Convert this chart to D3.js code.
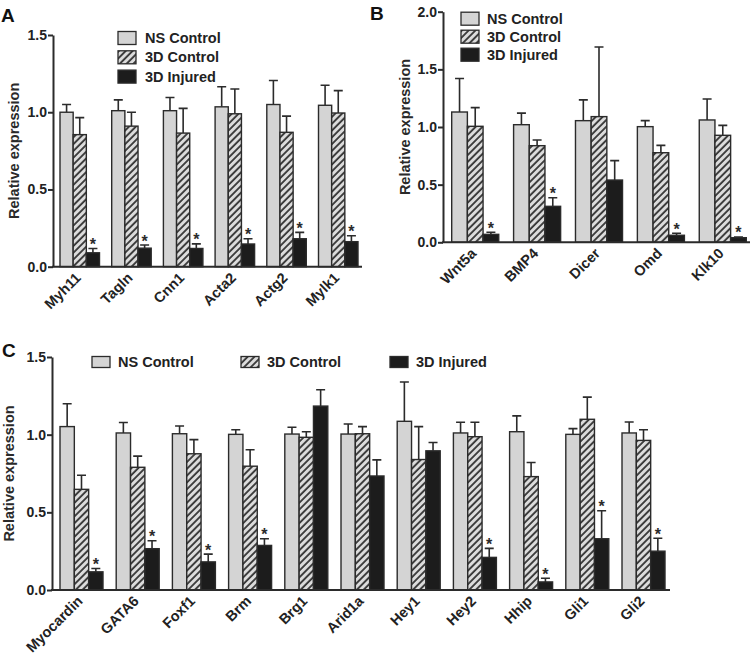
<!DOCTYPE html>
<html>
<head>
<meta charset="utf-8">
<script src="https://cdn.jsdelivr.net/npm/d3@7"></script>
<style>
  body { margin: 0; background: #fff; }
  svg { font-family: "Liberation Sans", Arial, sans-serif; }
</style>
</head>
<body>
<div id="chart"></div>
<script>
// series names
const seriesNames = ["NS Control", "3D Control", "3D Injured"];

// panel A - smooth muscle genes
const catsA = ["Myh11", "Tagln", "Cnn1", "Acta2", "Actg2", "Mylk1"];
const nsA = [1.00, 1.01, 1.01, 1.035, 1.05, 1.045];
const nsErrA = [0.05, 0.07, 0.085, 0.13, 0.155, 0.13];
const ctlA = [0.855, 0.91, 0.865, 0.99, 0.87, 0.995];
const ctlErrA = [0.11, 0.09, 0.16, 0.16, 0.105, 0.145];
const injA = [0.09, 0.12, 0.118, 0.147, 0.181, 0.162];
const injErrA = [0.028, 0.02, 0.03, 0.034, 0.041, 0.038];
const sigA = ["Myh11", "Tagln", "Cnn1", "Acta2", "Actg2", "Mylk1"];

// panel B
const catsB = ["Wnt5a", "BMP4", "Dicer", "Omd", "Klk10"];
const nsB = [1.13, 1.02, 1.055, 1.003, 1.061];
const nsErrB = [0.29, 0.10, 0.18, 0.052, 0.182];
const ctlB = [1.006, 0.838, 1.09, 0.777, 0.928];
const ctlErrB = [0.162, 0.049, 0.604, 0.064, 0.086];
const injB = [0.069, 0.312, 0.54, 0.061, 0.04];
const injErrB = [0.018, 0.075, 0.168, 0.017, 0.006];
const sigB = ["Wnt5a", "BMP4", "Omd", "Klk10"];

// panel C
const catsC = ["Myocardin", "GATA6", "Foxf1", "Brm", "Brg1", "Arid1a", "Hey1", "Hey2", "Hhip", "Gli1", "Gli2"];
const nsC = [1.052, 1.011, 1.006, 1.002, 1.004, 1.004, 1.086, 1.011, 1.019, 1.002, 1.011];
const nsErrC = [0.147, 0.067, 0.05, 0.03, 0.044, 0.065, 0.253, 0.069, 0.102, 0.037, 0.071];
const ctlC = [0.648, 0.79, 0.877, 0.797, 0.983, 1.006, 0.84, 0.987, 0.73, 1.099, 0.963];
const ctlErrC = [0.091, 0.072, 0.091, 0.106, 0.036, 0.046, 0.212, 0.093, 0.091, 0.143, 0.069];
const injC = [0.117, 0.266, 0.181, 0.287, 1.184, 0.734, 0.896, 0.21, 0.052, 0.33, 0.25];
const injErrC = [0.021, 0.051, 0.05, 0.043, 0.105, 0.104, 0.054, 0.058, 0.024, 0.18, 0.083];
const sigC = ["Myocardin", "GATA6", "Foxf1", "Brm", "Hey2", "Hhip", "Gli1", "Gli2"];

const ticksA = [0, 0.5, 1.0, 1.5];
const ticksB = [0, 0.5, 1.0, 1.5, 2.0];
const ticksC = [0, 0.5, 1.0, 1.5];

const W = 753, H = 661;
const ink = "#2b2b2b";

const svg = d3.select("#chart").append("svg")
    .attr("width", W)
    .attr("height", H);

// hatch pattern for 3D control
const defs = svg.append("defs");
const pat = defs.append("pattern")
    .attr("id", "hatch")
    .attr("patternUnits", "userSpaceOnUse")
    .attr("width", 4.8)
    .attr("height", 4.8)
    .attr("patternTransform", "rotate(45)");
pat.append("rect").attr("width", 4.8).attr("height", 4.8).attr("fill", "#dcdcdc");
pat.append("line")
    .attr("x1", 1).attr("y1", 0).attr("x2", 1).attr("y2", 4.8)
    .attr("stroke", "#333").attr("stroke-width", 1.8);

const fills = ["#d4d4d4", "url(#hatch)", "#1c1c1c"];

function drawPanel(p) {
    const g = svg.append("g");

    const x0 = d3.scaleBand()
        .domain(p.cats)
        .range(p.barRange)
        .paddingInner(p.padInner)
        .paddingOuter(0);
    const x1 = d3.scaleBand()
        .domain(seriesNames)
        .range([0, x0.bandwidth()]);
    const y = d3.scaleLinear()
        .domain(p.yDomain)
        .range(p.yRange);

    const rows = p.cats.map((c, i) => ({
        cat: c,
        vals: [
            { s: seriesNames[0], v: p.ns[i], e: p.nsErr[i] },
            { s: seriesNames[1], v: p.ctl[i], e: p.ctlErr[i] },
            { s: seriesNames[2], v: p.inj[i], e: p.injErr[i] }
        ]
    }));

    const grp = g.selectAll(".grp").data(rows).enter().append("g")
        .attr("transform", d => "translate(" + x0(d.cat) + ",0)");

    // error bars (drawn first so bar outline covers base)
    grp.selectAll(".err").data(d => d.vals).enter().append("path")
        .attr("d", d => {
            const cx = x1(d.s) + x1.bandwidth() / 2;
            const yt = y(d.v + d.e);
            return "M" + cx + "," + y(d.v) + "V" + yt + "M" + (cx - 4.5) + "," + yt + "H" + (cx + 4.5);
        })
        .attr("stroke", ink)
        .attr("stroke-width", 1.6)
        .attr("fill", "none");

    grp.selectAll("rect").data(d => d.vals).enter().append("rect")
        .attr("x", d => x1(d.s))
        .attr("y", d => y(d.v))
        .attr("width", x1.bandwidth())
        .attr("height", d => y(0) - y(d.v))
        .attr("fill", (d, i) => fills[i])
        .attr("stroke", ink)
        .attr("stroke-width", 1.4);

    // significance stars
    grp.filter(d => p.sig.includes(d.cat)).append("text")
        .attr("x", x1(seriesNames[2]) + x1.bandwidth() / 2)
        .attr("y", d => y(d.vals[2].v + d.vals[2].e) + 1.5)
        .attr("text-anchor", "middle")
        .attr("font-size", 16)
        .attr("font-weight", "bold")
        .attr("fill", ink)
        .text("*");

    // y axis
    const yAxis = d3.axisLeft(y)
        .tickValues(p.ticks)
        .tickFormat(d3.format(".1f"))
        .tickSize(5)
        .tickSizeOuter(0);
    const ya = g.append("g")
        .attr("transform", "translate(" + p.axisX + ",0)")
        .call(yAxis);
    ya.select(".domain").attr("stroke", ink).attr("stroke-width", 2);
    ya.selectAll(".tick line").attr("stroke", ink).attr("stroke-width", 2);
    ya.selectAll(".tick text")
        .attr("font-size", 14)
        .attr("font-weight", "bold")
        .attr("fill", "#222")
        .attr("x", -6)
        .attr("font-family", "Liberation Sans, Arial, sans-serif");

    // x axis baseline
    g.append("line")
        .attr("x1", p.axisX - 1).attr("x2", p.axisEnd)
        .attr("y1", y(0)).attr("y2", y(0))
        .attr("stroke", ink).attr("stroke-width", 2);

    // rotated category labels
    g.selectAll(".xl").data(p.cats).enter().append("text")
        .attr("transform", d => "translate(" + (x0(d) + x0.bandwidth() / 2 + 2) + "," + (y(0) + 12) + ") rotate(-45)")
        .attr("text-anchor", "end")
        .attr("font-size", 14.5)
        .attr("font-weight", "bold")
        .attr("fill", "#222")
        .text(d => d);

    // y title
    const yMid = (p.yRange[0] + p.yRange[1]) / 2;
    g.append("text")
        .attr("transform", "translate(" + p.titleX + "," + yMid + ") rotate(-90)")
        .attr("text-anchor", "middle")
        .attr("font-size", 14.5)
        .attr("font-weight", "bold")
        .attr("fill", "#2a2a2a")
        .text("Relative expression");

    // panel letter
    g.append("text")
        .attr("x", p.letterPos[0]).attr("y", p.letterPos[1])
        .attr("font-size", 19)
        .attr("font-weight", "bold")
        .attr("fill", "#111")
        .text(p.letter);

    // legend
    const lg = g.selectAll(".lg").data(seriesNames).enter().append("g")
        .attr("transform", (d, i) => "translate(" + (p.legend.x + i * p.legend.dx) + "," + (p.legend.y + i * p.legend.dy) + ")");
    lg.append("rect")
        .attr("x", 0).attr("y", -p.legend.h / 2)
        .attr("width", 18).attr("height", p.legend.h)
        .attr("fill", (d, i) => fills[i])
        .attr("stroke", ink).attr("stroke-width", 1.3);
    lg.append("text")
        .attr("x", p.legend.tx)
        .attr("y", 5)
        .attr("font-size", 14.5)
        .attr("font-weight", "bold")
        .attr("fill", "#222")
        .text(d => d);
}

drawPanel({
    letter: "A", letterPos: [1, 22],
    cats: catsA, ns: nsA, nsErr: nsErrA, ctl: ctlA, ctlErr: ctlErrA, inj: injA, injErr: injErrA, sig: sigA,
    ticks: ticksA, yDomain: [0, 1.5], yRange: [266.7, 35],
    barRange: [60, 358], padInner: 0.236,
    axisX: 53, axisEnd: 362, titleX: 19,
    legend: { x: 118, y: 38, dx: 0, dy: 19.3, h: 13, tx: 27 }
});

drawPanel({
    letter: "B", letterPos: [370, 20],
    cats: catsB, ns: nsB, nsErr: nsErrB, ctl: ctlB, ctlErr: ctlErrB, inj: injB, injErr: injErrB, sig: sigB,
    ticks: ticksB, yDomain: [0, 2], yRange: [242.3, 11.7],
    barRange: [451.7, 746.3], padInner: 0.24,
    axisX: 443, axisEnd: 750, titleX: 410,
    legend: { x: 461, y: 18.7, dx: 0, dy: 18, h: 13, tx: 26 }
});

drawPanel({
    letter: "C", letterPos: [2, 357],
    cats: catsC, ns: nsC, nsErr: nsErrC, ctl: ctlC, ctlErr: ctlErrC, inj: injC, injErr: injErrC, sig: sigC,
    ticks: ticksC, yDomain: [0, 1.5], yRange: [590, 357],
    barRange: [60, 665], padInner: 0.235,
    axisX: 52, axisEnd: 670, titleX: 14,
    legend: { x: 92, y: 362, dx: 149, dy: 0, h: 11, tx: 26 }
});
</script>
</body>
</html>
